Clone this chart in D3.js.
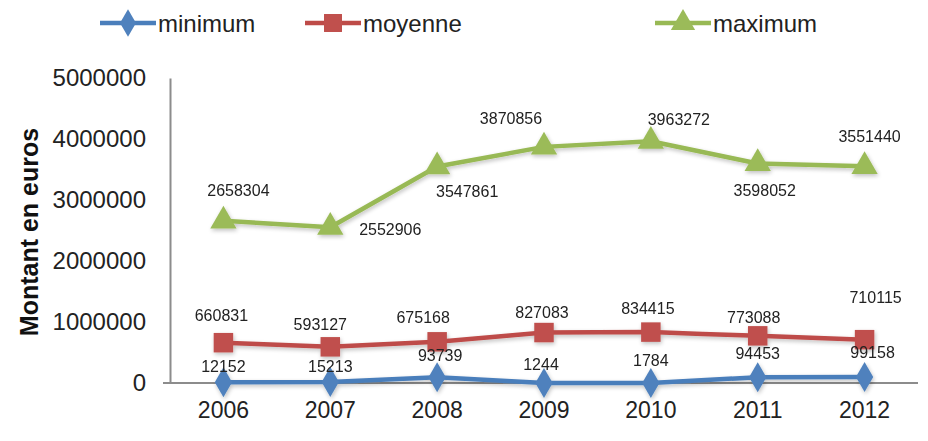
<!DOCTYPE html>
<html>
<head>
<meta charset="utf-8">
<script src="https://cdn.jsdelivr.net/npm/d3@7"></script>
<style>
  html, body { margin: 0; padding: 0; background: #fff; }
  svg { display: block; font-family: "Liberation Sans", Arial, sans-serif; }
</style>
</head>
<body>
<svg id="chart" width="928" height="441"></svg>
<script>
// Years on the horizontal axis
const years = ["2006", "2007", "2008", "2009", "2010", "2011", "2012"];

// Amounts in euros per year
const minimum = [12152, 15213, 93739, 1244, 1784, 94453, 99158];
const moyenne = [660831, 593127, 675168, 827083, 834415, 773088, 710115];
const maximum = [2658304, 2552906, 3547861, 3870856, 3963272, 3598052, 3551440];

// Y axis ticks
const yTicks = [0, 1000000, 2000000, 3000000, 4000000, 5000000];

// Series names used in the legend
const seriesNames = ["minimum", "moyenne", "maximum"];

// Offsets [dx, dy] of each value label relative to its point
const labelOffsets = {
  minimum: [[0, -16], [0, -16], [3, -22], [-3, -18], [0, -22], [0, -24], [8, -24]],
  moyenne: [[-2, -27], [-10, -22], [-14, -24], [-2, -20], [-3, -24], [-4, -18], [11, -42]],
  maximum: [[15, -30], [60, 2], [30, 25], [-33, -28], [28, -22], [7, 27], [5, -30]]
};

const svg = d3.select("#chart");
const plot = { left: 170, right: 918, top: 78, bottom: 383 };

const x = d3.scaleBand().domain(years).range([plot.left, plot.right]);
const y = d3.scaleLinear().domain([0, 5000000]).range([plot.bottom, plot.top]);
const cx = d => x(d) + x.bandwidth() / 2;

// soft shadow under lines and markers
const defs = svg.append("defs");
const f = defs.append("filter").attr("id", "soft").attr("x", "-20%").attr("y", "-50%")
  .attr("width", "140%").attr("height", "200%");
f.append("feGaussianBlur").attr("in", "SourceAlpha").attr("stdDeviation", 2).attr("result", "b");
f.append("feOffset").attr("in", "b").attr("dx", 1).attr("dy", 2).attr("result", "o");
f.append("feComponentTransfer").attr("in", "o").attr("result", "s")
  .append("feFuncA").attr("type", "linear").attr("slope", 0.25);
const m = f.append("feMerge");
m.append("feMergeNode").attr("in", "s");
m.append("feMergeNode").attr("in", "SourceGraphic");

// Axes
const yAxis = d3.axisLeft(y).tickValues(yTicks).tickSize(0).tickPadding(24).tickFormat(d3.format("d"));
const gy = svg.append("g").attr("transform", `translate(${plot.left},0)`).call(yAxis);
gy.select(".domain").attr("stroke", "#8c8c8c").attr("stroke-width", 2);
gy.selectAll("text").attr("font-size", 24).attr("fill", "#222");

const xAxis = d3.axisBottom(x).tickSize(0).tickPadding(19);
const gx = svg.append("g").attr("transform", `translate(0,${plot.bottom})`).call(xAxis);
gx.select(".domain").attr("d", `M${plot.left - 7},0H${plot.right}`)
  .attr("stroke", "#8c8c8c").attr("stroke-width", 2);
gx.selectAll("text").attr("font-size", 23).attr("fill", "#222");

// Axis title
svg.append("text")
  .attr("transform", "translate(38,232) rotate(-90)")
  .attr("text-anchor", "middle")
  .attr("font-size", 25).attr("font-weight", "bold").attr("fill", "#111")
  .text("Montant en euros");

const series = [
  { name: "minimum", values: minimum, color: "#4a7ebb", fill: "#4f81bd", shape: d3.symbolDiamond, size: 260 },
  { name: "moyenne", values: moyenne, color: "#be4b48", fill: "#c0504d", shape: d3.symbolSquare, size: 380 },
  { name: "maximum", values: maximum, color: "#98b954", fill: "#9bbb59", shape: d3.symbolTriangle, size: 300 }
];

const line = d3.line().x((d, i) => cx(years[i])).y(d => y(d));

series.forEach(s => {
  const g = svg.append("g").attr("filter", "url(#soft)");
  g.append("path").datum(s.values).attr("d", line)
    .attr("fill", "none").attr("stroke", s.color).attr("stroke-width", 4.5)
    .attr("stroke-linejoin", "round");
  g.selectAll("path.pt").data(s.values).join("path").attr("class", "pt")
    .attr("transform", (d, i) => `translate(${cx(years[i])},${y(d)})`)
    .attr("d", d3.symbol().type(s.shape).size(s.size))
    .attr("fill", s.fill);
});

// Value labels
series.forEach(s => {
  svg.append("g").selectAll("text").data(s.values).join("text")
    .attr("x", (d, i) => cx(years[i]) + labelOffsets[s.name][i][0])
    .attr("y", (d, i) => y(d) + labelOffsets[s.name][i][1])
    .attr("text-anchor", "middle").attr("dominant-baseline", "central")
    .attr("font-size", 16).attr("fill", "#222")
    .text(d => d);
});

// Legend
const legendX = [100, 305, 655];
const lg = svg.append("g");
series.forEach((s, i) => {
  const g = lg.append("g").attr("transform", `translate(${legendX[i]},23)`);
  g.append("line").attr("x1", 0).attr("x2", 56).attr("stroke", s.color).attr("stroke-width", 4.5);
  g.append("path").attr("transform", "translate(28,0)")
    .attr("d", d3.symbol().type(s.shape).size(s.size * 0.85)).attr("fill", s.fill);
  g.append("text").attr("x", 58).attr("y", 0).attr("dominant-baseline", "central")
    .attr("font-size", 24).attr("fill", "#222").text(seriesNames[i]);
});
</script>
</body>
</html>
